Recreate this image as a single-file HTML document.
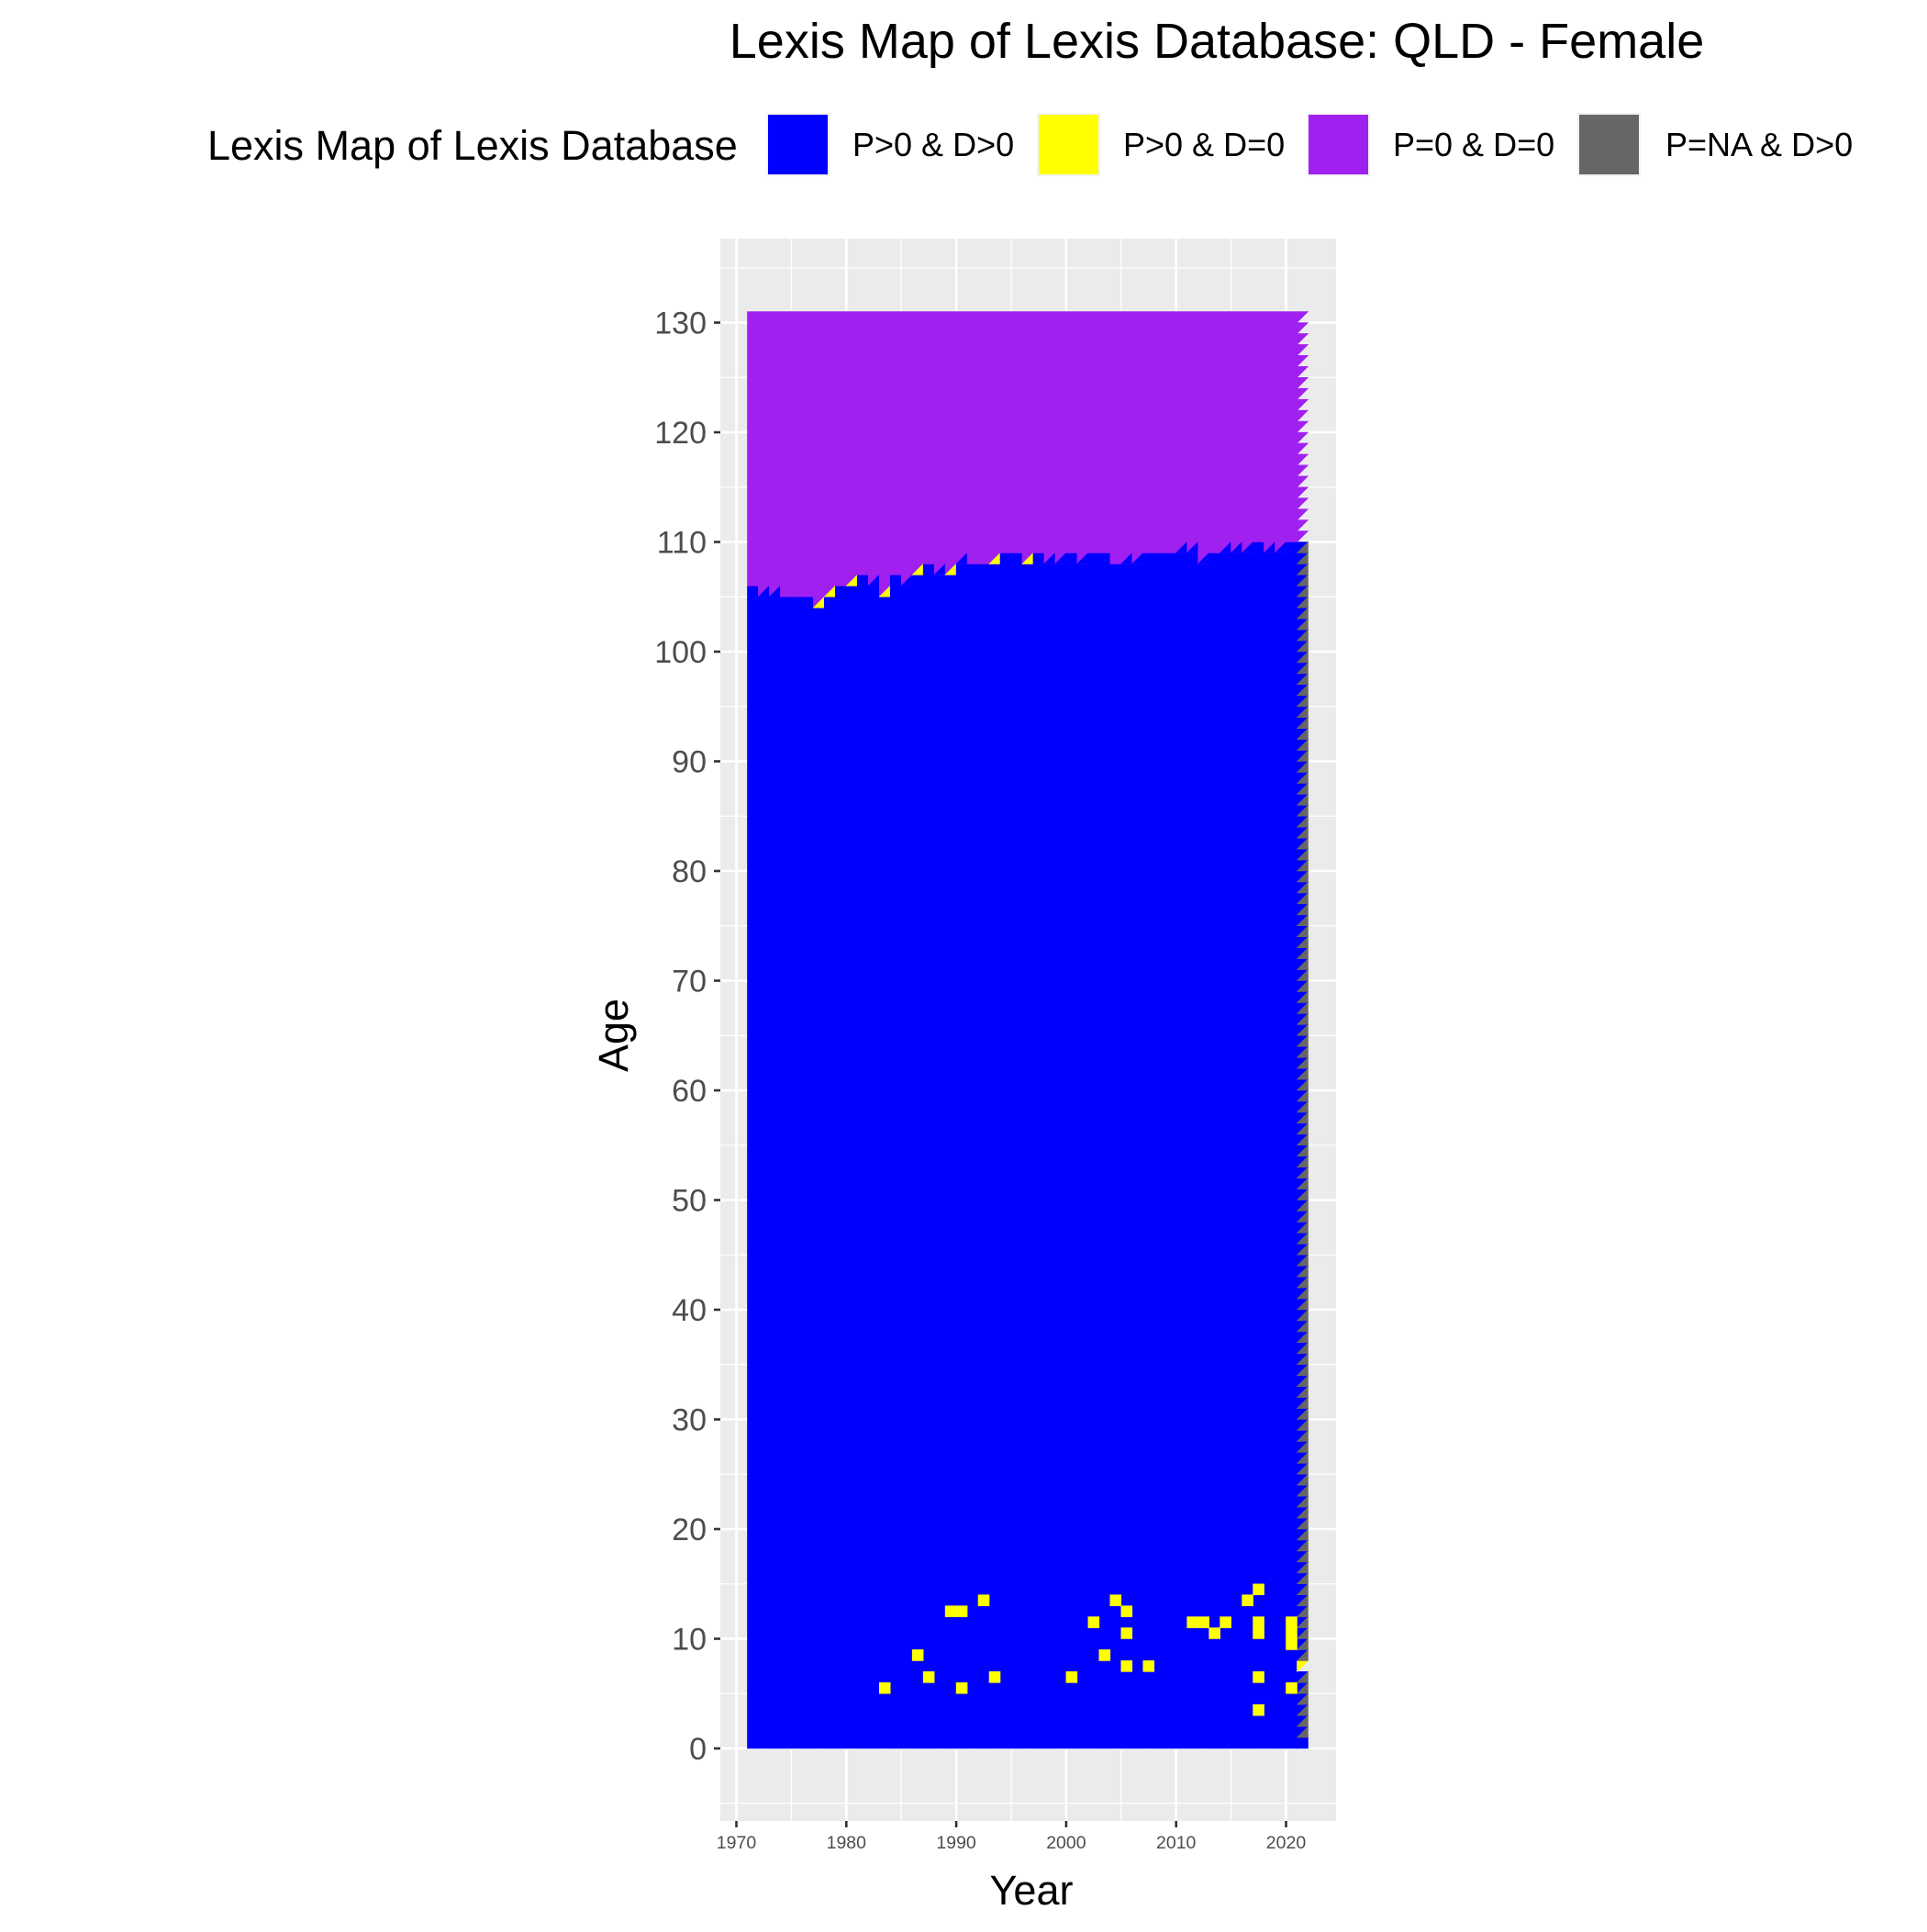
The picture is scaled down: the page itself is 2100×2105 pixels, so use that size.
<!DOCTYPE html>
<html><head><meta charset="utf-8"><style>
html,body{margin:0;padding:0;background:#fff;}
svg text{font-family:"Liberation Sans",sans-serif;}
</style></head>
<body>
<svg id="chart" width="2100" height="2100" viewBox="0 0 2100 2100" xmlns="http://www.w3.org/2000/svg">
<text x="1326" y="63" font-size="54" text-anchor="middle">Lexis Map of Lexis Database: QLD - Female</text>
<g>
<text x="226" y="174" font-size="45">Lexis Map of Lexis Database</text>
<rect x="836" y="124" width="67" height="67" fill="#0000ff" stroke="#f2f2f2" stroke-width="2"/>
<text x="929" y="170" font-size="36">P&gt;0 &amp; D&gt;0</text>
<rect x="1131" y="124" width="67" height="67" fill="#ffff00" stroke="#f2f2f2" stroke-width="2"/>
<text x="1224" y="170" font-size="36">P&gt;0 &amp; D=0</text>
<rect x="1425" y="124" width="67" height="67" fill="#a020f0" stroke="#f2f2f2" stroke-width="2"/>
<text x="1518" y="170" font-size="36">P=0 &amp; D=0</text>
<rect x="1720" y="124" width="67" height="67" fill="#666666" stroke="#f2f2f2" stroke-width="2"/>
<text x="1815" y="170" font-size="36">P=NA &amp; D&gt;0</text>
</g>
<rect x="785" y="260" width="671" height="1724" fill="#ebebeb"/>
<g id="grid"></g>
<g id="tiles"></g>
<g id="axes"></g>
<text x="1124" y="2075" font-size="45" text-anchor="middle">Year</text>
<text x="0" y="0" font-size="45" text-anchor="middle" transform="translate(684,1128) rotate(-90)">Age</text>
</svg>
<script>
// ---- data ----
var years = [];
for (var yv = 1971; yv <= 2021; yv++) years.push(yv);
var blueTop = [106,105,105,105,105,105,104,105,106,106,107,106,105,107,106,107,108,107,107,108,108,108,108,109,109,108,109,108,108,109,108,109,109,108,108,108,109,109,109,109,109,108,109,109,109,109,110,109,109,110];
var topTri = ['','b','b','','','','y','y','','y','','b','y','','b','y','','b','y','b','','','y','','','y','','b','b','','b','','','','b','b','','','','b','b','b','','b','b','b','','b','b',''];
var yellowYears = [1983,1986,1987,1989,1990,1990,1992,1993,2000,2002,2003,2004,2005,2005,2005,2007,2011,2012,2013,2014,2016,2017,2017,2017,2017,2017,2020,2020,2020,2020];
var yellowAges  = [5,8,6,12,12,5,13,6,6,11,8,13,12,10,7,7,11,11,10,11,13,14,11,10,6,3,11,10,9,5];
var maxAge = 131;
var lastYearBlueTop = 110;
var xTicks = [1970,1980,1990,2000,2010,2020];
var yTicks = [0,10,20,30,40,50,60,70,80,90,100,110,120,130];
// ---- scales ----
function sx(v){ return 802.5 + (v - 1970) * 11.98; }
function sy(v){ return 1905 - v * 11.95; }
var NS = 'http://www.w3.org/2000/svg';
var colors = {b:'#0000ff', y:'#ffff00', p:'#a020f0', g:'#666666'};
var tiles = document.getElementById('tiles');
function poly(pts, fill, name){
  var p = document.createElementNS(NS,'polygon');
  p.setAttribute('points', pts.map(function(a){return sx(a[0]).toFixed(2)+','+sy(a[1]).toFixed(2);}).join(' '));
  p.setAttribute('fill', fill);
  p.setAttribute('stroke', fill);
  p.setAttribute('stroke-width', '0.6');
  
  
  tiles.appendChild(p);
}
function lower(x,a,c,n){ poly([[x,a],[x+1,a],[x+1,a+1]], c, n); }
function upper(x,a,c,n){ poly([[x,a],[x,a+1],[x+1,a+1]], c, n); }
for (var i = 0; i < blueTop.length; i++) {
  var x = years[i];
  poly([[x,0],[x+1,0],[x+1,blueTop[i]],[x,blueTop[i]]], colors.b, 'blue-block-'+x);
  poly([[x,blueTop[i]],[x+1,blueTop[i]],[x+1,maxAge],[x,maxAge]], colors.p, 'purple-block-'+x);
  if (topTri[i]) lower(x, blueTop[i], colors[topTri[i]], 'top-triangle-'+x);
}
var ly = years[years.length-1];
for (var a = 0; a < maxAge; a++) {
  if (a < lastYearBlueTop) {
    upper(ly, a, a === 7 ? colors.y : colors.b, 'last-year-upper-'+a);
    if (a >= 1 && a !== 7) lower(ly, a, colors.g, 'last-year-lower-'+a);
    else if (a === 0) lower(ly, a, colors.b, 'last-year-lower-'+a);
  } else {
    upper(ly, a, colors.p, 'last-year-upper-'+a);
  }
}
for (var k = 0; k < yellowYears.length; k++) {
  var yx = yellowYears[k], ya = yellowAges[k];
  poly([[yx,ya],[yx+1,ya],[yx+1,ya+1],[yx,ya+1]], colors.y, 'yellow-cell-'+yx+'-'+ya);
}
var grid = document.getElementById('grid');
function line(g,x1,y1,x2,y2,c,w,n){
  var l = document.createElementNS(NS,'line');
  l.setAttribute('x1',x1);l.setAttribute('y1',y1);l.setAttribute('x2',x2);l.setAttribute('y2',y2);
  l.setAttribute('stroke',c);l.setAttribute('stroke-width',w);
  
  
  g.appendChild(l);
}
for (var t = 1965; t <= 2025; t += 5) {
  var gx = sx(t); if (gx < 785 || gx > 1456) continue;
  line(grid,gx,260,gx,1984,'#ffffff',(t%10===0)?2.6:1.3,'x-grid-'+t);
}
for (var t2 = -5; t2 <= 135; t2 += 5) {
  var gy = sy(t2); if (gy < 260 || gy > 1984) continue;
  line(grid,785,gy,1456,gy,'#ffffff',(t2%10===0)?2.6:1.3,'y-grid-'+t2);
}
var axes = document.getElementById('axes');
function txt(x,y,s,size,anchor,n){
  var e = document.createElementNS(NS,'text');
  e.setAttribute('x',x);e.setAttribute('y',y);e.setAttribute('font-size',size);
  e.setAttribute('text-anchor',anchor);e.setAttribute('fill','#4d4d4d');
  e.textContent = s;
  
  
  axes.appendChild(e);
}
xTicks.forEach(function(t){
  line(axes,sx(t),1984,sx(t),1991,'#333333',2.6,'x-tick-'+t);
  txt(sx(t),2014,String(t),19.5,'middle','x-tick-label-'+t);
});
yTicks.forEach(function(t){
  line(axes,778,sy(t),785,sy(t),'#333333',2.6,'y-tick-'+t);
  txt(770,sy(t)+12,String(t),34,'end','y-tick-label-'+t);
});
</script>
</body></html>
